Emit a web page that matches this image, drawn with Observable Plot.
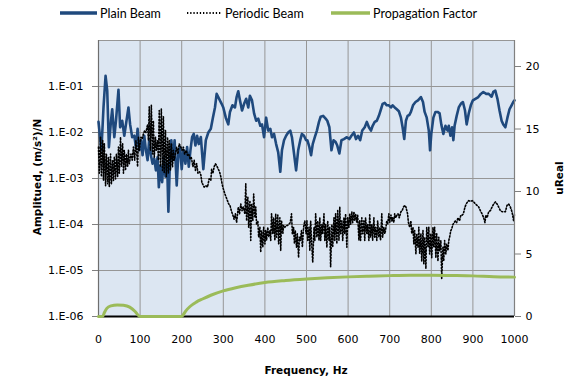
<!DOCTYPE html>
<html>
<head>
<meta charset="utf-8">
<script src="https://cdn.jsdelivr.net/npm/d3@7"></script>
<script src="https://cdn.jsdelivr.net/npm/@observablehq/plot@0.6"></script>
<style>
  html, body { margin: 0; padding: 0; background: #fff; }
  body { width: 567px; height: 379px; overflow: hidden; position: relative; }
  #legend { position: absolute; left: 0; top: 0; width: 567px; height: 24px; font-family: Lato, "Liberation Sans", sans-serif; font-size: 12.5px; color: #000; }
  .item { position: absolute; top: 5px; height: 16px; display: flex; align-items: center; white-space: nowrap; }
  .item svg { margin-right: 3px; }
  #charts { position: absolute; left: 0; top: 24px; width: 567px; height: 355px; }
  #charts svg.plotsvg { position: absolute; left: 0; top: 0; }
  .title { position: absolute; font-family: "DejaVu Sans", Verdana, sans-serif; font-weight: bold; font-size: 10.5px; color: #000; white-space: nowrap; }
</style>
</head>
<body>
<div id="legend"></div>
<div id="charts"></div>
<div class="title" id="ytitle" style="left:37px; top:177px; transform: translate(-50%,-50%) rotate(-90deg);"></div>
<div class="title" id="y2title" style="left:559px; top:178px; transform: translate(-50%,-50%) rotate(-90deg);"></div>
<div class="title" id="xtitle" style="left:306px; top:370px; transform: translate(-50%,-50%);"></div>
<script>
// ---- Series names and axis titles ----
const seriesNames = ["Plain Beam", "Periodic Beam", "Propagation Factor"];
const xTitle = "Frequency, Hz";
const yTitle = "Amplitued, (m/s²)/N";
const y2Title = "uReal";

// ---- Tick values ----
const freqTicks = [0, 100, 200, 300, 400, 500, 600, 700, 800, 900, 1000];
const ampTicks = [1e-6, 1e-5, 1e-4, 1e-3, 1e-2, 1e-1];
const factorTicks = [0, 5, 10, 15, 20];

// ---- Plain Beam: [frequency Hz, amplitude (m/s²)/N] ----
const plainBeam = [
[0,1.7e-2],[7,4.1e-3],[12,3.5e-2],[17,1.7e-1],[21,8.1e-2],[25,4.8e-3],[30,1.8e-2],[33,3.2e-2],[38,7.9e-3],[42,1.8e-2],
[48,8.5e-2],[52,1.3e-2],[57,1.8e-2],[62,8.5e-3],[66,1.5e-2],[72,3.5e-2],[76,1.5e-2],[81,7.9e-3],[86,8.5e-3],[90,4.8e-3],
[94,1.2e-2],[98,4.1e-3],[102,6.8e-3],[106,3.2e-3],[110,8.5e-3],[114,4.1e-3],[118,2.5e-3],[122,7.2e-3],[126,3.2e-3],[130,2.1e-3],
[134,2.7e-3],[138,1.5e-3],[142,2.9e-3],[145,6.5e-4],[149,1.9e-3],[153,8.3e-4],[157,2.9e-3],[161,1.1e-3],[165,2.1e-3],[168,1.9e-4],
[171,1.5e-3],[175,6.8e-3],[179,2.5e-3],[183,6.8e-3],[188,7.1e-4],[192,3.5e-3],[196,4.8e-3],[200,1.6e-3],[204,4.1e-3],[209,2.1e-3],
[213,4.8e-3],[217,1.8e-3],[221,4.1e-3],[225,7.9e-3],[229,9.3e-3],[233,5.2e-3],[237,8.5e-3],[241,5.6e-3],[246,8.0e-3],[252,1.6e-3],
[258,6.8e-3],[264,1.0e-2],[270,1.2e-2],[275,2.1e-2],[280,3.5e-2],[284,6.9e-2],[290,5.4e-2],[296,4.2e-2],[300,3.5e-2],[306,2.1e-2],
[312,1.5e-2],[316,2.8e-2],[322,3.9e-2],[328,3.5e-2],[332,5.9e-2],[336,7.9e-2],[340,5.0e-2],[345,3.0e-2],[350,4.2e-2],[355,5.4e-2],
[360,3.5e-2],[364,6.3e-2],[369,5.0e-2],[374,2.6e-2],[379,1.8e-2],[384,2.0e-2],[389,1.4e-2],[393,1.5e-2],[398,7.9e-3],[403,2.1e-2],
[408,1.1e-2],[413,1.2e-2],[417,7.9e-3],[422,9.3e-3],[427,5.6e-3],[432,3.7e-3],[437,1.4e-3],[441,4.1e-3],[446,6.8e-3],[451,8.5e-3],
[456,1.0e-2],[461,1.1e-2],[465,7.9e-3],[470,3.5e-3],[475,1.5e-3],[480,4.1e-3],[485,6.8e-3],[489,9.3e-3],[494,8.5e-3],[499,6.8e-3],
[502,6.8e-3],[507,4.8e-3],[511,3.2e-3],[515,5.6e-3],[520,7.9e-3],[525,1.1e-2],[530,1.7e-2],[534,2.2e-2],[540,2.3e-2],[546,2.0e-2],
[550,1.8e-2],[555,1.3e-2],[560,4.1e-3],[565,6.8e-3],[570,6.2e-3],[574,5.2e-3],[579,3.5e-3],[584,6.8e-3],[590,7.2e-3],[597,7.9e-3],
[603,7.2e-3],[608,8.5e-3],[614,1.0e-2],[619,7.2e-3],[624,8.5e-3],[629,6.8e-3],[634,1.1e-2],[640,1.3e-2],[645,1.7e-2],[650,1.3e-2],
[655,1.1e-2],[659,1.4e-2],[664,1.7e-2],[669,1.8e-2],[674,2.3e-2],[679,3.2e-2],[683,4.2e-2],[688,4.4e-2],[693,3.9e-2],[698,3.9e-2],
[703,3.5e-2],[707,3.9e-2],[712,3.5e-2],[717,3.2e-2],[722,2.9e-2],[727,2.1e-2],[731,1.3e-2],[735,7.2e-3],[739,1.8e-2],[743,2.3e-2],
[747,2.4e-2],[751,2.8e-2],[756,3.9e-2],[762,4.6e-2],[768,5.0e-2],[775,5.9e-2],[780,4.6e-2],[784,2.8e-2],[789,2.1e-2],[794,1.1e-2],
[797,4.1e-3],[800,9.3e-3],[805,2.1e-2],[810,2.8e-2],[815,2.8e-2],[820,2.6e-2],[824,1.5e-2],[829,9.3e-3],[834,1.4e-2],[839,1.1e-2],
[842,1.4e-2],[846,8.5e-3],[850,1.3e-2],[853,6.8e-3],[856,1.4e-2],[861,2.3e-2],[866,3.5e-2],[871,4.2e-2],[876,4.6e-2],[881,3.0e-2],
[885,1.5e-2],[890,2.6e-2],[895,3.9e-2],[900,5.0e-2],[906,5.4e-2],[913,5.9e-2],[919,6.9e-2],[925,7.6e-2],[932,6.9e-2],[938,6.9e-2],
[945,6.0e-2],[949,7.6e-2],[954,8.1e-2],[959,5.4e-2],[964,3.0e-2],[969,1.8e-2],[973,1.5e-2],[978,1.3e-2],[983,2.1e-2],[988,3.2e-2],
[993,3.9e-2],[997,4.6e-2],[1000,5.0e-2]
];

// ---- Periodic Beam: [frequency Hz, amplitude (m/s²)/N] ----
const periodicBeam = [
[0,4.8e-3],[2,1.3e-3],[5,7.9e-3],[7,1.1e-3],[10,6.7e-3],[12,9.1e-4],[14,5.7e-3],[17,7.0e-4],[19,3.4e-3],[22,7.7e-4],
[24,2.9e-3],[26,6.5e-4],[29,3.4e-3],[31,7.7e-4],[34,2.5e-3],[36,9.1e-4],[38,2.9e-3],[41,9.8e-4],[43,3.4e-3],[46,1.1e-3],
[48,4.8e-3],[50,1.3e-3],[53,7.9e-3],[55,1.8e-3],[58,5.7e-3],[60,1.3e-3],[62,4.1e-3],[65,1.5e-3],[67,3.4e-3],[70,1.8e-3],
[72,4.1e-3],[74,2.1e-3],[78,3.4e-3],[81,2.5e-3],[84,4.8e-3],[87,2.5e-3],[90,6.7e-3],[94,1.8e-3],[96,7.9e-3],[98,4.1e-3],
[102,7.9e-3],[105,7.3e-3],[108,9.4e-3],[111,1.1e-2],[114,1.0e-2],[118,1.5e-2],[120,6.7e-3],[122,3.6e-2],[125,4.1e-3],[127,3.9e-2],
[130,3.4e-3],[132,1.8e-2],[134,2.9e-3],[137,7.9e-3],[139,4.1e-3],[142,6.7e-3],[144,2.5e-3],[146,3.0e-2],[149,1.8e-3],[151,3.3e-2],
[154,1.5e-3],[156,2.2e-2],[158,1.3e-3],[161,1.1e-2],[163,1.1e-3],[166,7.9e-3],[168,1.3e-3],[170,6.7e-3],[173,1.5e-3],[175,5.7e-3],
[178,1.8e-3],[180,4.1e-3],[182,2.5e-3],[185,3.4e-3],[188,4.8e-3],[191,3.4e-3],[194,5.7e-3],[198,4.8e-3],[201,4.1e-3],[204,4.8e-3],
[207,3.4e-3],[211,4.1e-3],[214,3.2e-3],[217,3.4e-3],[220,2.7e-3],[223,2.9e-3],[227,1.8e-3],[230,2.5e-3],[233,1.5e-3],[236,2.1e-3],
[239,1.3e-3],[243,1.4e-3],[246,1.2e-3],[249,7.7e-4],[250,7.7e-4],[254,6.5e-4],[258,7.0e-4],[262,6.5e-4],[266,9.8e-4],[270,9.1e-4],
[272,1.6e-3],[275,1.3e-3],[278,1.8e-3],[281,2.1e-3],[284,1.9e-3],[288,1.6e-3],[291,1.4e-3],[294,1.1e-3],[297,7.7e-4],[300,6.0e-4],
[304,4.6e-4],[307,3.9e-4],[310,3.3e-4],[313,2.8e-4],[316,2.6e-4],[320,1.9e-4],[323,1.6e-4],[326,1.3e-4],[329,1.7e-4],[332,1.1e-4],
[336,2.4e-4],[339,1.7e-4],[342,2.8e-4],[345,2.0e-4],[348,2.4e-4],[352,1.7e-4],[354,7.7e-4],[356,1.2e-4],[359,3.9e-4],[361,8.7e-5],
[364,3.3e-4],[366,4.5e-5],[368,2.8e-4],[371,1.2e-4],[373,4.6e-4],[376,1.4e-4],[378,2.4e-4],[380,1.0e-4],[383,1.2e-4],[385,5.3e-5],
[388,8.7e-5],[390,2.5e-5],[392,7.4e-5],[395,3.2e-5],[397,8.7e-5],[400,3.8e-5],[402,7.4e-5],[404,4.5e-5],[407,8.7e-5],[409,5.3e-5],
[412,7.4e-5],[414,4.5e-5],[416,1.7e-4],[419,6.3e-5],[421,1.4e-4],[424,4.5e-5],[426,1.7e-4],[428,5.3e-5],[431,1.6e-4],[433,3.8e-5],
[436,1.4e-4],[438,2.7e-5],[440,1.2e-4],[443,6.3e-5],[445,9.5e-5],[448,8.7e-5],[451,9.5e-5],[454,9.5e-5],[457,1.0e-4],[461,1.1e-4],
[464,1.7e-4],[466,6.3e-5],[469,8.7e-5],[471,3.8e-5],[473,7.4e-5],[476,3.2e-5],[478,6.3e-5],[481,1.9e-5],[483,5.3e-5],[485,4.5e-5],
[488,7.4e-5],[490,3.2e-5],[493,8.7e-5],[496,1.2e-4],[499,6.3e-5],[501,1.2e-4],[503,4.5e-5],[506,8.7e-5],[508,2.7e-5],[510,1.2e-4],
[513,3.2e-5],[515,1.5e-5],[518,8.7e-5],[520,4.5e-5],[522,1.7e-4],[525,5.3e-5],[527,1.2e-4],[530,4.5e-5],[532,1.4e-4],[534,4.5e-5],
[537,1.0e-4],[539,6.3e-5],[542,1.7e-4],[544,4.5e-5],[546,1.0e-4],[549,3.2e-5],[551,1.2e-4],[554,4.5e-5],[556,8.7e-5],[558,1.2e-5],
[561,1.0e-4],[563,3.2e-5],[566,1.4e-4],[568,4.5e-5],[570,1.7e-4],[573,3.8e-5],[575,2.0e-4],[578,4.5e-5],[580,2.4e-4],[582,6.3e-5],
[585,1.2e-4],[587,4.5e-5],[590,1.4e-4],[592,6.3e-5],[594,1.7e-4],[597,3.2e-5],[599,1.4e-4],[602,8.7e-5],[604,1.7e-4],[606,1.0e-4],
[609,1.9e-4],[611,1.1e-4],[614,1.9e-4],[616,1.2e-4],[618,1.7e-4],[621,1.1e-4],[623,1.6e-4],[626,4.5e-5],[628,1.2e-4],[630,4.5e-5],
[633,1.4e-4],[635,6.3e-5],[638,1.2e-4],[640,4.5e-5],[642,1.4e-4],[645,6.3e-5],[647,1.0e-4],[650,4.5e-5],[652,1.7e-4],[654,5.3e-5],
[657,1.0e-4],[659,4.5e-5],[662,1.4e-4],[664,5.3e-5],[666,8.7e-5],[669,4.5e-5],[671,1.2e-4],[674,5.3e-5],[676,8.7e-5],[678,4.5e-5],
[681,1.7e-4],[683,5.3e-5],[686,8.7e-5],[688,6.3e-5],[690,7.4e-5],[693,1.2e-4],[695,1.0e-4],[698,1.7e-4],[700,1.1e-4],[703,1.6e-4],
[705,1.2e-4],[707,1.4e-4],[710,1.1e-4],[712,1.7e-4],[715,1.4e-4],[717,1.6e-4],[720,1.7e-4],[723,1.4e-4],[727,1.9e-4],[730,2.0e-4],
[733,2.4e-4],[736,2.6e-4],[739,2.4e-4],[743,1.7e-4],[745,1.1e-4],[748,8.7e-5],[751,1.2e-4],[753,6.3e-5],[756,8.7e-5],[758,3.8e-5],
[760,7.4e-5],[763,2.3e-5],[765,6.3e-5],[768,3.2e-5],[770,8.7e-5],[772,2.3e-5],[775,6.3e-5],[777,1.6e-5],[780,7.4e-5],[782,1.4e-5],
[784,5.3e-5],[787,1.1e-5],[789,8.7e-5],[792,3.2e-5],[794,8.7e-5],[796,2.3e-5],[799,6.3e-5],[801,1.9e-5],[804,8.7e-5],[806,3.2e-5],
[808,8.7e-5],[811,1.9e-5],[813,6.3e-5],[816,1.6e-5],[818,5.3e-5],[820,2.7e-5],[823,4.5e-5],[825,6.6e-6],[828,3.2e-5],[830,1.6e-5],
[832,4.5e-5],[835,2.3e-5],[837,3.8e-5],[840,2.7e-5],[842,4.5e-5],[844,5.3e-5],[847,7.4e-5],[849,8.0e-5],[852,1.0e-4],[855,1.1e-4],
[858,1.2e-4],[861,1.1e-4],[864,1.4e-4],[868,1.2e-4],[871,1.6e-4],[874,1.6e-4],[877,1.7e-4],[881,2.4e-4],[884,2.8e-4],[887,3.1e-4],
[890,3.3e-4],[894,3.2e-4],[898,3.3e-4],[902,3.1e-4],[906,2.8e-4],[910,2.6e-4],[914,2.4e-4],[918,2.0e-4],[922,1.7e-4],[926,1.4e-4],
[929,1.1e-4],[931,1.6e-4],[934,1.4e-4],[938,1.9e-4],[942,2.0e-4],[946,2.4e-4],[950,2.8e-4],[954,3.1e-4],[958,2.8e-4],[962,2.4e-4],
[966,2.0e-4],[970,1.9e-4],[974,1.9e-4],[978,1.9e-4],[982,2.6e-4],[986,2.8e-4],[990,2.4e-4],[994,1.9e-4],[998,1.2e-4],[1000,1.7e-4]
];

// ---- Propagation Factor (right axis, uReal): [frequency Hz, value] ----
const propagationFactor = [
[0,0],[10,0],[14,0.3],[20,0.65],[30,0.85],[45,0.93],[60,0.9],[75,0.75],[88,0.4],[97,0.05],[100,0],
[200,0],[203,0.1],[210,0.45],[220,0.8],[235,1.15],[250,1.4],[270,1.7],[300,2.05],[330,2.3],[360,2.5],
[400,2.72],[450,2.88],[500,3.0],[550,3.1],[600,3.17],[650,3.22],[700,3.27],[750,3.3],[800,3.3],
[850,3.28],[900,3.25],[950,3.18],[1000,3.15]
];

// ---- Styling ----
const colors = ["#1f497d", "#000000", "#9bbb59"];
const W = 567, H = 355;
const margins = {marginLeft: 98, marginRight: 53, marginTop: 16, marginBottom: 63};
const baseStyle = {fontFamily: "'DejaVu Sans', Verdana, sans-serif", fontSize: "11px", color: "#000", background: "transparent", overflow: "visible"};
const gridColor = "#969696";
const dotted = "1.3 1.9";
const expFmt = d => { const e = Math.round(Math.log10(d)); return "1.E" + (e < 0 ? "-" : "+") + String(Math.abs(e)).padStart(2, "0"); };

// Left (log) chart
const leftPlot = Plot.plot({
  width: W, height: H, ...margins,
  style: baseStyle,
  x: {domain: [0, 1000], axis: null},
  y: {type: "log", domain: [1e-6, 1], axis: null},
  marks: [
    Plot.frame({fill: "#dce6f2", stroke: null}),
    Plot.gridX(freqTicks.slice(1, -1), {stroke: gridColor, strokeOpacity: 1, strokeWidth: 1}),
    Plot.gridY([1e-5, 1e-4, 1e-3, 1e-2, 1e-1, 1], {stroke: gridColor, strokeOpacity: 1, strokeWidth: 1}),
    Plot.axisX(freqTicks, {tickSize: 0, tickPadding: 19, tickFormat: d => String(d), label: null}),
    Plot.axisY(ampTicks, {tickSize: 6, tickPadding: 9, tickFormat: expFmt, label: null, stroke: "#808080", fill: "#000"}),
    Plot.ruleX([0], {stroke: "#6e6e6e", strokeWidth: 1.2}),
    Plot.line(plainBeam, {x: d => d[0], y: d => d[1], stroke: colors[0], strokeWidth: 2.6}),
    Plot.line(periodicBeam, {x: d => d[0], y: d => d[1], stroke: colors[1], strokeWidth: 1.6, strokeDasharray: dotted}),
    Plot.ruleY([1e-6], {stroke: "#000", strokeWidth: 2})
  ]
});

// Right (linear) chart overlay
const rightPlot = Plot.plot({
  width: W, height: H, ...margins,
  style: baseStyle,
  x: {domain: [0, 1000], axis: null},
  y: {domain: [0, 22.08], axis: null},
  marks: [
    Plot.axisY(factorTicks, {anchor: "right", tickSize: 6, tickPadding: 5, label: null, stroke: "#808080", fill: "#000"}),
    Plot.ruleX([1000], {stroke: "#808080", strokeWidth: 1.2}),
    Plot.line(propagationFactor, {x: d => d[0], y: d => d[1], stroke: colors[2], strokeWidth: 3, curve: "monotone-x"})
  ]
});

leftPlot.classList.add("plotsvg");
rightPlot.classList.add("plotsvg");
const charts = document.getElementById("charts");
charts.appendChild(leftPlot);
charts.appendChild(rightPlot);

// Titles
document.getElementById("xtitle").textContent = xTitle;
document.getElementById("ytitle").textContent = yTitle;
document.getElementById("y2title").textContent = y2Title;

// Legend
const legendX = [60, 187, 331];
const swatchW = [37, 35, 39];
const legend = document.getElementById("legend");
seriesNames.forEach((name, i) => {
  const item = document.createElement("div");
  item.className = "item";
  item.style.left = legendX[i] + "px";
  const dash = i === 1 ? ` stroke-dasharray="${dotted}"` : "";
  const sw = i === 1 ? 1.8 : 3.5;
  item.innerHTML = `<svg width="${swatchW[i]}" height="8"><line x1="0" y1="4" x2="${swatchW[i]}" y2="4" stroke="${colors[i]}" stroke-width="${sw}"${dash}/></svg><span>${name}</span>`;
  legend.appendChild(item);
});
</script>
</body>
</html>
